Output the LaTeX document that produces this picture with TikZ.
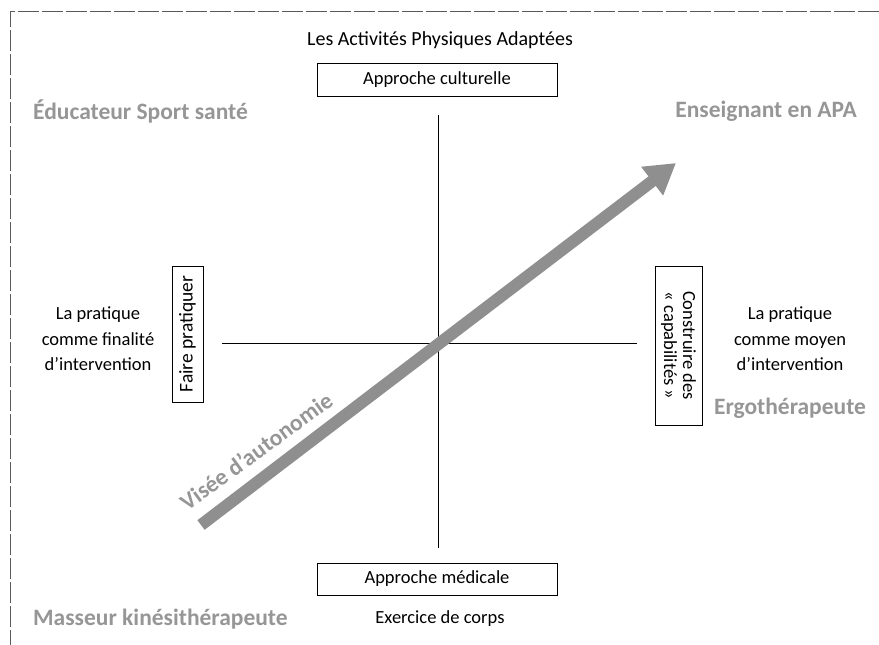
\documentclass[tikz,border=0pt]{standalone}
\usepackage{fontspec}
\setmainfont{Carlito}
\usetikzlibrary{arrows.meta}
\definecolor{lbl}{RGB}{150,150,150}
\definecolor{arr}{RGB}{143,143,143}
\definecolor{brd}{RGB}{90,90,90}
\begin{document}
\begin{tikzpicture}[x=1pt,y=-1pt,
  txt/.style={font=\fontsize{18.5}{22}\selectfont, align=center, inner sep=0pt},
  role/.style={font=\fontsize{23.5}{27}\selectfont\bfseries, text=lbl, inner sep=0pt},
  boxed/.style={draw, line width=0.8pt, font=\fontsize{18.5}{22}\selectfont, inner sep=0pt, align=center},
  axis/.style={line width=0.8pt}]
\useasboundingbox (0,0) rectangle (879,645);
\coordinate (bTL) at (10,11);
\coordinate (bTR) at (879,11);
\coordinate (bBL) at (10,645);
\draw[brd, line width=1pt, dash pattern=on 21pt off 3pt] (bTR) -- (bTL) -- (bBL);

\node[txt, font=\fontsize{20}{24}\selectfont] (title) at (440,40) {Les Activités Physiques Adaptées};
\node[boxed, minimum width=240pt, minimum height=33pt] (cult) at (437,80) {Approche culturelle};
\node[boxed, minimum width=240pt, minimum height=32pt] (med) at (437,579) {Approche médicale};
\node[txt] (corps) at (440,619) {Exercice de corps};

\node[boxed, rotate=90, minimum width=136pt, minimum height=31pt, font=\fontsize{19.5}{22}\selectfont] (faire) at (187.5,334) {Faire pratiquer};
\node[boxed, rotate=-90, minimum width=159pt, minimum height=47pt, font=\fontsize{18.5}{19}\selectfont] (constr) at (678.5,345.5) {Construire des\\« capabilités »};

\coordinate (vT) at (438,115);
\coordinate (vB) at (438,548);
\coordinate (hL) at (222,343);
\coordinate (hR) at (637,343);
\draw[axis] (vT) -- (vB);
\draw[axis] (hL) -- (hR);

\node[txt, font=\fontsize{18.5}{25.5}\selectfont] (fin) at (98,339) {La pratique\\comme finalité\\d'intervention};
\node[txt, font=\fontsize{18.5}{25.5}\selectfont] (moy) at (790,339) {La pratique\\comme moyen\\d'intervention};

\node[role, anchor=west] (educ) at (33,111) {Éducateur Sport santé};
\node[role, anchor=east] (ens) at (857,111) {Enseignant en APA};
\node[role] (ergo) at (790,408) {Ergothérapeute};
\node[role, anchor=west] (mass) at (33,619) {Masseur kinésithérapeute};

\coordinate (aS) at (201,525);
\coordinate (aE) at (676,163);
\draw[arr, line width=12pt, -{Triangle[length=30pt,width=34pt]}] (aS) -- (aE);
\node[role, rotate=36] (vis) at (256,451) {Visée d'autonomie};
\end{tikzpicture}
\end{document}
